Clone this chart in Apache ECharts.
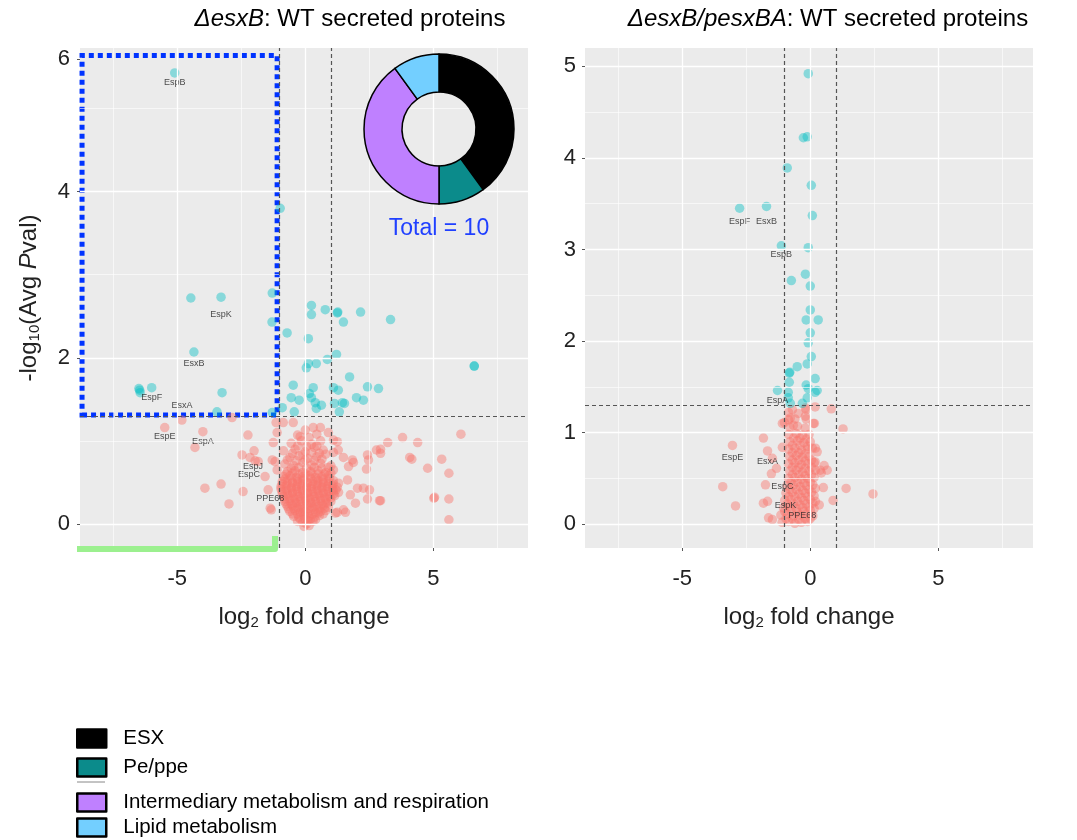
<!DOCTYPE html>
<html>
<head>
<meta charset="UTF-8">
<title>Volcano plots - WT secreted proteins</title>
<script src="https://cdn.jsdelivr.net/npm/echarts@6/dist/echarts.min.js"></script>
<style>body{margin:0;background:#fff;}</style>
</head>
<body>
<div id="container" style="width:1077px;height:840px;"></div>
<script>
var FONT = '"Liberation Sans", Arial, sans-serif';

// left panel (ΔesxB), points with Avg Pval < 0.05
var leftCyan = [
  [-5.1,5.43],[-0.98,3.80],[-4.47,2.72],[-3.29,2.73],[-1.29,2.78],[-1.3,2.43],[-4.35,2.07],
  [-6.47,1.61],[-6.45,1.58],[-6.5,1.63],[-6.0,1.64],[-3.25,1.58],[-3.45,1.35],[-1.29,1.34],
  [-0.9,1.40],[-0.43,1.35],[-0.71,2.30],[0.24,2.63],[0.24,2.52],[0.78,2.58],[0.12,2.23],
  [0.12,1.93],[0.04,1.88],[0.43,1.93],[0.86,1.98],[-0.47,1.67],[-0.55,1.52],[-0.24,1.49],
  [0.31,1.64],[0.16,1.57],[0.24,1.52],[0.39,1.46],[0.63,1.43],[0.43,1.39],[1.25,2.54],
  [1.27,2.55],[2.16,2.55],[1.49,2.43],[3.33,2.46],[1.22,2.04],[6.6,1.90],[6.6,1.90],
  [1.73,1.77],[1.1,1.64],[1.29,1.61],[2.43,1.65],[2.86,1.63],[2.0,1.52],[2.27,1.49],
  [1.14,1.45],[1.45,1.46],[1.53,1.45],[1.33,1.35]
];
// left panel, non significant points
var leftRed = [
  [-5.49,1.16],[-4.82,1.25],[-4.0,1.11],[-4.31,0.92],[-2.86,1.28],[-2.24,1.07],[-2.0,0.88],
  [-2.47,0.83],[-2.16,0.80],[-1.96,0.76],[-1.84,0.75],[-3.92,0.43],[-3.29,0.48],[-2.43,0.39],
  [-2.98,0.24],[-1.37,0.19],[-1.57,0.57],[-1.25,0.98],[-1.29,0.77],[-1.1,1.10],[-1.14,1.22],
  [-0.86,1.22],[-0.47,1.22],[0,1.13],[0.31,1.16],[0.59,1.16],[0.9,1.10],[-0.2,1.05],
  [1.25,0.99],[1.1,1.01],[3.22,0.98],[2.78,0.89],[2.43,0.83],[2.47,0.77],[1.84,0.77],
  [1.88,0.74],[1.69,0.69],[2.39,0.66],[1.49,0.80],[1.29,0.89],[-1.18,0.75],[-1.1,0.65],
  [-1.45,0.41],[-1.33,0.17],[1.65,0.53],[2.04,0.43],[2.27,0.43],[2.51,0.41],[1.76,0.35],
  [1.96,0.25],[2.43,0.30],[2.9,0.28],[1.18,0.13],[1.49,0.17],[1.57,0.14],[1.25,0.14],
  [2.94,0.90],[3.8,1.04],[4.39,0.98],[6.08,1.08],[4.16,0.78],[4.08,0.80],[5.33,0.78],
  [4.78,0.67],[5.61,0.61],[2.94,0.28],[5.02,0.31],[5.05,0.32],[5.61,0.30],[5.61,0.05],[2.94,0.85],
  [-0.05,-0.03],[0.15,-0.02],
  [-0.3,0.03],[-0.1,0.02],[0.1,0.04],[0.3,0.03],
  [-0.45,0.09],[-0.25,0.08],[-0.05,0.1],[0.15,0.09],[0.35,0.08],[0.55,0.1],
  [-0.6,0.15],[-0.4,0.16],[-0.2,0.14],[0,0.15],[0.2,0.16],[0.4,0.14],[0.6,0.15],[0.8,0.16],
  [-0.7,0.21],[-0.5,0.22],[-0.3,0.2],[-0.1,0.21],[0.1,0.22],[0.3,0.2],[0.5,0.21],[0.7,0.22],[0.9,0.2],
  [-0.8,0.27],[-0.6,0.28],[-0.4,0.26],[-0.2,0.27],[0,0.28],[0.2,0.26],[0.4,0.27],[0.6,0.28],[0.8,0.26],[1.0,0.27],
  [-0.85,0.33],[-0.65,0.34],[-0.45,0.32],[-0.25,0.33],[-0.05,0.34],[0.15,0.32],[0.35,0.33],[0.55,0.34],[0.75,0.32],[0.95,0.33],[1.15,0.34],
  [-0.9,0.39],[-0.7,0.4],[-0.5,0.38],[-0.3,0.39],[-0.1,0.4],[0.1,0.38],[0.3,0.39],[0.5,0.4],[0.7,0.38],[0.9,0.39],[1.1,0.4],[1.3,0.38],
  [-0.95,0.45],[-0.75,0.46],[-0.55,0.44],[-0.35,0.45],[-0.15,0.46],[0.05,0.44],[0.25,0.45],[0.45,0.46],[0.65,0.44],[0.85,0.45],[1.05,0.46],[1.25,0.44],
  [-0.9,0.51],[-0.7,0.52],[-0.5,0.5],[-0.3,0.51],[-0.1,0.52],[0.1,0.5],[0.3,0.51],[0.5,0.52],[0.7,0.5],[0.9,0.51],[1.1,0.52],
  [-0.85,0.57],[-0.6,0.58],[-0.35,0.56],[-0.1,0.57],[0.15,0.58],[0.4,0.56],[0.65,0.57],[0.9,0.58],
  [-0.7,0.63],[-0.4,0.64],[-0.1,0.62],[0.2,0.63],[0.5,0.64],[0.8,0.62],[1.1,0.65],
  [-0.8,0.72],[-0.45,0.7],[-0.1,0.74],[0.25,0.71],[0.6,0.73],[1.0,0.7],
  [-0.6,0.8],[-0.25,0.82],[0.1,0.79],[0.45,0.81],[0.8,0.84],
  [-0.85,0.88],[-0.4,0.9],[0.0,0.87],[0.35,0.92],[0.7,0.89],[1.1,0.86],
  [-0.55,0.97],[-0.15,1.0],[0.25,0.96],[0.6,1.0],
  [-0.3,1.07],[0.15,1.04],[0.45,1.08],
  [0.05,0.0],[-0.2,0.06],[0.0,0.06],[0.2,0.06],[0.4,0.05],
  [-0.5,0.12],[-0.3,0.12],[-0.1,0.13],[0.1,0.12],[0.3,0.12],[0.5,0.13],[0.7,0.12],
  [-0.65,0.18],[-0.45,0.19],[-0.25,0.18],[-0.05,0.18],[0.15,0.19],[0.35,0.18],[0.55,0.18],[0.75,0.19],
  [-0.75,0.24],[-0.55,0.24],[-0.35,0.25],[-0.15,0.24],[0.05,0.24],[0.25,0.25],[0.45,0.24],[0.65,0.24],[0.85,0.25],
  [-0.8,0.3],[-0.6,0.31],[-0.4,0.3],[-0.2,0.3],[0.0,0.31],[0.2,0.3],[0.4,0.3],[0.6,0.31],[0.8,0.3],[1.0,0.31],
  [-0.9,0.36],[-0.7,0.36],[-0.5,0.37],[-0.3,0.36],[-0.1,0.36],[0.1,0.37],[0.3,0.36],[0.5,0.36],[0.7,0.37],[0.9,0.36],[1.1,0.36],
  [-0.95,0.42],[-0.75,0.42],[-0.55,0.43],[-0.35,0.42],[-0.15,0.42],[0.05,0.43],[0.25,0.42],[0.45,0.42],[0.65,0.43],[0.85,0.42],[1.05,0.42],[1.2,0.41],
  [-0.9,0.48],[-0.7,0.48],[-0.5,0.49],[-0.3,0.48],[-0.1,0.48],[0.1,0.49],[0.3,0.48],[0.5,0.48],[0.7,0.49],[0.9,0.48],[1.1,0.48],[1.3,0.49],
  [-0.8,0.54],[-0.55,0.55],[-0.3,0.54],[-0.05,0.54],[0.2,0.55],[0.45,0.54],[0.7,0.54],[0.95,0.55],
  [-0.75,0.6],[-0.5,0.61],[-0.25,0.6],[0.0,0.6],[0.25,0.61],[0.5,0.6],[0.75,0.6],[1.0,0.61],
  [-0.55,0.67],[-0.25,0.68],[0.05,0.67],[0.35,0.68],[0.65,0.67],[0.9,0.68],
  [-0.7,0.77],[-0.35,0.76],[0.0,0.77],[0.35,0.76],[0.65,0.78],
  [-0.5,0.85],[-0.1,0.84],[0.25,0.86],[0.55,0.85],
  [-0.3,0.94],[0.05,0.93],[0.45,0.94]
];

// right panel (ΔesxB/pesxBA)
var rightCyan = [
  [-0.08,4.92],[-0.27,4.22],[-0.12,4.23],[-0.9,3.89],[0.04,3.70],[-2.76,3.45],[-1.71,3.47],
  [0.08,3.37],[-1.13,3.04],[-0.08,3.02],[-0.19,2.73],[-0.74,2.66],[0.0,2.60],[0.0,2.34],
  [-0.16,2.23],[0.31,2.23],[0,2.09],[-0.08,1.98],[0.04,1.83],[-0.51,1.72],[-0.12,1.75],
  [-0.82,1.65],[-0.8,1.66],[0.19,1.59],[-0.82,1.55],[-0.16,1.52],[-0.08,1.48],[0.27,1.46],
  [0.19,1.44],[-1.28,1.46],[-0.86,1.44],[-0.86,1.38],[-0.12,1.38],[-0.31,1.32],[-0.78,1.32]
];
var rightRed = [
  [0.82,1.26],[1.28,1.04],[-3.04,0.86],[-1.83,0.94],[-1.67,0.80],[-1.32,0.61],[-3.42,0.41],
  [-2.92,0.20],[-1.83,0.23],[-1.52,0.55],[-1.75,0.43],[-1.67,0.25],[-1.63,0.07],[-1.48,0.05],
  [1.40,0.39],[2.45,0.33],[0.89,0.26],[0.35,0.21],[0.66,0.59],[0.54,0.64],[0.43,0.56],
  [0.08,0.83],[0.16,1.10],[-0.16,1.15],[-0.47,1.21],[-0.19,1.27],[-1.09,0.84],[-1.09,1.10],
  [0.51,0.40],[0.19,1.28],[-0.16,1.25],[0.12,1.10],[-1.01,1.11],[-0.78,1.16],[-1.48,0.72],
  [0.39,0.59],[0.19,0.68],[0.27,0.79],[-0.19,1.18],[-0.66,1.08],
  [-1.1,0.02],[-0.85,0.03],[-0.6,0.01],[-0.35,0.02],[-0.1,0.03],
  [-1.15,0.1],[-0.9,0.11],[-0.65,0.09],[-0.4,0.1],[-0.15,0.11],[0.1,0.09],
  [-1.05,0.18],[-0.8,0.19],[-0.55,0.17],[-0.3,0.18],[-0.05,0.19],[0.15,0.17],
  [-1.0,0.26],[-0.75,0.27],[-0.5,0.25],[-0.25,0.26],[0.0,0.27],[0.2,0.25],
  [-0.95,0.34],[-0.7,0.35],[-0.45,0.33],[-0.2,0.34],[0.05,0.35],
  [-0.9,0.42],[-0.65,0.43],[-0.4,0.41],[-0.15,0.42],[0.1,0.43],
  [-0.85,0.5],[-0.6,0.51],[-0.35,0.49],[-0.1,0.5],[0.15,0.51],
  [-0.8,0.58],[-0.55,0.59],[-0.3,0.57],[-0.05,0.58],[0.2,0.59],
  [-0.85,0.66],[-0.6,0.67],[-0.35,0.65],[-0.1,0.66],[0.15,0.67],
  [-0.8,0.74],[-0.55,0.75],[-0.3,0.73],[-0.05,0.74],
  [-0.85,0.82],[-0.6,0.83],[-0.35,0.81],[-0.1,0.82],[0.2,0.83],
  [-0.8,0.9],[-0.5,0.91],[-0.25,0.89],[0.0,0.9],
  [-0.85,0.98],[-0.55,0.99],[-0.3,0.97],[-0.05,0.98],
  [-0.8,1.06],[-0.5,1.07],[-0.2,1.05],
  [-0.85,1.14],[-0.6,1.15],
  [-0.85,1.22],[-0.7,1.25],
  [-0.95,0.06],[-0.7,0.06],[-0.45,0.05],[-0.2,0.06],[0.0,0.06],
  [-1.0,0.14],[-0.75,0.14],[-0.5,0.13],[-0.25,0.14],[0.0,0.15],
  [-0.9,0.22],[-0.65,0.22],[-0.4,0.21],[-0.15,0.22],[0.1,0.23],
  [-0.85,0.3],[-0.6,0.3],[-0.35,0.29],[-0.1,0.3],[0.15,0.31],
  [-0.8,0.38],[-0.55,0.38],[-0.3,0.37],[-0.05,0.38],[0.2,0.39],
  [-0.75,0.46],[-0.5,0.46],[-0.25,0.45],[0.0,0.46],
  [-0.7,0.54],[-0.45,0.54],[-0.2,0.53],[0.05,0.54],
  [-0.7,0.62],[-0.45,0.62],[-0.2,0.61],[0.05,0.62],
  [-0.7,0.7],[-0.45,0.7],[-0.2,0.69],[0.05,0.7],
  [-0.7,0.78],[-0.45,0.78],[-0.2,0.77],
  [-0.7,0.86],[-0.4,0.86],[-0.1,0.85],
  [-0.65,0.94],[-0.4,0.94],[-0.15,0.93]
];

var leftLabelNames = ['EspB','EspK','EsxB','EspF','EsxA','EspE','EspA','EspJ','EspC','PPE68'];
var leftLabelPos = [[-5.1,5.31],[-3.29,2.52],[-4.35,1.93],[-6.0,1.52],[-4.82,1.43],[-5.49,1.05],[-4.0,0.99],[-2.04,0.69],[-2.2,0.59],[-1.37,0.31]];
var rightLabelNames = ['EspF','EsxB','EspB','EspA','EspE','EsxA','EspC','EspK','PPE68'];
var rightLabelPos = [[-2.76,3.31],[-1.71,3.30],[-1.13,2.94],[-1.28,1.35],[-3.04,0.73],[-1.67,0.68],[-1.09,0.41],[-0.97,0.20],[-0.31,0.09]];

// donut: functional categories of the 10 proteins
var categories = ['ESX','Pe/ppe','Intermediary metabolism and respiration','Lipid metabolism'];
var categoryCounts = [4,1,4,1];
var categoryColors = ['#000000','#0b8b8b','#bf80ff','#73cfff'];
var legendTops = [728, 757, 792, 817];

// ticks and grid
var xTicks = [-5,0,5];
var xMajor = [-5,0,5];
var xMinor = [-7.5,-2.5,2.5,7.5];
var leftYTicks = [0,2,4,5.6];
var leftYTickLabels = ['0','2','4','6'];
var leftYMajor = [0,2,4];
var leftYMinor = [1,3,5];
var rightYTicks = [0,1,2,3,4,5];
var rightYMajor = [0,1,2,3,4,5];
var rightYMinor = [0.5,1.5,2.5,3.5,4.5];
var fcCut = [-1,1];
var pCut = 1.3;

function gridLineData(xMaj, xMin, yMaj, yMin) {
  var d = [];
  xMin.forEach(function (v) { d.push({xAxis: v, lineStyle: {width: 0.6}}); });
  yMin.forEach(function (v) { d.push({yAxis: v, lineStyle: {width: 0.6}}); });
  xMaj.forEach(function (v) { d.push({xAxis: v, lineStyle: {width: 1.3}}); });
  yMaj.forEach(function (v) { d.push({yAxis: v, lineStyle: {width: 1.3}}); });
  return d;
}
function cutLineData() {
  var d = fcCut.map(function (v) { return {xAxis: v}; });
  d.push({yAxis: pCut});
  return d;
}
function labelData(names, pos) {
  return names.map(function (n, i) { return {name: n, value: pos[i]}; });
}

var subRich = {
  a: {fontSize: 24, color: '#222', fontFamily: FONT},
  s: {fontSize: 15, color: '#222', fontFamily: FONT, padding: [11, 0, 0, 0]},
  i: {fontSize: 24, color: '#222', fontFamily: FONT, fontStyle: 'italic'}
};
var titleRich = {
  i: {fontSize: 24, color: '#000', fontFamily: FONT, fontStyle: 'italic', fontWeight: 'normal'},
  n: {fontSize: 24, color: '#000', fontFamily: FONT, fontWeight: 'normal'}
};

function xAxisOpt(idx) {
  return {
    gridIndex: idx, type: 'value', min: -8.8, max: 8.7,
    axisLine: {show: false, onZero: false},
    axisTick: {show: true, customValues: xTicks, length: 3, lineStyle: {color: '#555'}},
    axisLabel: {customValues: xTicks, fontSize: 22, color: '#222', margin: 20, fontFamily: FONT},
    splitLine: {show: false},
    name: '{a|log}{s|2}{a| fold change}',
    nameLocation: 'middle', nameGap: 56,
    nameTextStyle: {rich: subRich}
  };
}

// one legend per entry so the uneven spacing of the original can be kept
var legends = categories.map(function (c, i) {
  return {
    data: [c], orient: 'vertical', left: 76, top: legendTops[i], padding: 0,
    itemWidth: 29, itemHeight: 18, icon: 'rect', selectedMode: false,
    itemStyle: {borderColor: '#000', borderWidth: 2.5},
    textStyle: {fontSize: 20.5, color: '#000', fontFamily: FONT, padding: [0, 0, 0, 12]}
  };
});

var chart_container = echarts.init(document.getElementById('container'), null, {renderer: 'canvas'});

var dotSize = 9.5;
var option_container = {
  animation: false,
  textStyle: {fontFamily: FONT},
  title: [
    {text: '{i|ΔesxB}{n|: WT secreted proteins}', left: 345, top: 2, textAlign: 'center', textStyle: {rich: titleRich}},
    {text: '{i|ΔesxB/pesxBA}{n|: WT secreted proteins}', left: 823, top: 2, textAlign: 'center', textStyle: {rich: titleRich}},
    {text: 'Total = 10', left: 434, top: 212, textAlign: 'center',
      textStyle: {color: '#2040ff', fontSize: 23, fontWeight: 'normal', fontFamily: FONT}}
  ],
  grid: [
    {left: 80, top: 48, width: 448, height: 500, show: true, backgroundColor: '#ebebeb', borderWidth: 0},
    {left: 585, top: 48, width: 448, height: 500, show: true, backgroundColor: '#ebebeb', borderWidth: 0}
  ],
  xAxis: [xAxisOpt(0), xAxisOpt(1)],
  yAxis: [
    {
      gridIndex: 0, type: 'value', min: -0.29, max: 5.73,
      axisLine: {show: false, onZero: false},
      axisTick: {show: true, customValues: leftYTicks, length: 3, lineStyle: {color: '#555'}},
      axisLabel: {
        customValues: leftYTicks, fontSize: 22, color: '#222', margin: 10, fontFamily: FONT,
        formatter: function (v) {
          var best = 0;
          leftYTicks.forEach(function (t, i) { if (Math.abs(t - v) < Math.abs(leftYTicks[best] - v)) best = i; });
          return leftYTickLabels[best];
        }
      },
      splitLine: {show: false},
      name: '{a|-log}{s|10}{a|(Avg }{i|P}{a|val)}',
      nameLocation: 'middle', nameGap: 38, nameRotate: 90,
      nameTextStyle: {rich: subRich}
    },
    {
      gridIndex: 1, type: 'value', min: -0.26, max: 5.2,
      axisLine: {show: false, onZero: false},
      axisTick: {show: true, customValues: rightYTicks, length: 3, lineStyle: {color: '#555'}},
      axisLabel: {customValues: rightYTicks, fontSize: 22, color: '#222', margin: 9, fontFamily: FONT},
      splitLine: {show: false}
    }
  ],
  legend: legends,
  graphic: [
    {type: 'line', shape: {x1: 77, y1: 782, x2: 105, y2: 782}, style: {stroke: '#888', lineWidth: 1}},
    {type: 'polyline', shape: {points: [[77, 549], [275, 549], [275, 536]]}, z: 20,
      style: {stroke: '#9cf08f', lineWidth: 6, fill: null, lineJoin: 'round'}}
  ],
  series: [
    // panel grid lines
    {type: 'scatter', xAxisIndex: 0, yAxisIndex: 0, data: [], z: 1, silent: true,
      markLine: {silent: true, symbol: 'none', label: {show: false}, animation: false,
        lineStyle: {color: '#ffffff', type: 'solid'},
        data: gridLineData(xMajor, xMinor, leftYMajor, leftYMinor)}},
    {type: 'scatter', xAxisIndex: 1, yAxisIndex: 1, data: [], z: 1, silent: true,
      markLine: {silent: true, symbol: 'none', label: {show: false}, animation: false,
        lineStyle: {color: '#ffffff', type: 'solid'},
        data: gridLineData(xMajor, xMinor, rightYMajor, rightYMinor)}},
    // points
    {type: 'scatter', xAxisIndex: 0, yAxisIndex: 0, data: leftRed, symbolSize: dotSize, z: 2, silent: true,
      itemStyle: {color: '#F8766D', opacity: 0.45, borderWidth: 0}},
    {type: 'scatter', xAxisIndex: 0, yAxisIndex: 0, data: leftCyan, symbolSize: dotSize, z: 2, silent: true,
      itemStyle: {color: '#00BFC4', opacity: 0.42, borderWidth: 0}},
    {type: 'scatter', xAxisIndex: 1, yAxisIndex: 1, data: rightRed, symbolSize: dotSize, z: 2, silent: true,
      itemStyle: {color: '#F8766D', opacity: 0.45, borderWidth: 0}},
    {type: 'scatter', xAxisIndex: 1, yAxisIndex: 1, data: rightCyan, symbolSize: dotSize, z: 2, silent: true,
      itemStyle: {color: '#00BFC4', opacity: 0.42, borderWidth: 0}},
    // protein labels
    {type: 'scatter', xAxisIndex: 0, yAxisIndex: 0, data: labelData(leftLabelNames, leftLabelPos),
      symbolSize: 1, z: 3, silent: true, itemStyle: {color: 'rgba(0,0,0,0)'},
      label: {show: true, position: 'inside', formatter: '{b}', fontSize: 9, color: '#222', fontFamily: FONT}},
    {type: 'scatter', xAxisIndex: 1, yAxisIndex: 1, data: labelData(rightLabelNames, rightLabelPos),
      symbolSize: 1, z: 3, silent: true, itemStyle: {color: 'rgba(0,0,0,0)'},
      label: {show: true, position: 'inside', formatter: '{b}', fontSize: 9, color: '#222', fontFamily: FONT}},
    // cut-off lines + highlighted box
    {type: 'scatter', xAxisIndex: 0, yAxisIndex: 0, data: [], z: 4, silent: true,
      markLine: {silent: true, symbol: 'none', label: {show: false}, animation: false,
        lineStyle: {color: '#555', type: [4, 3], width: 1.2}, data: cutLineData()},
      markArea: {silent: true, animation: false, label: {show: false},
        itemStyle: {color: 'rgba(0,0,0,0)', borderColor: '#0033ff', borderWidth: 5, borderType: [5, 4]},
        data: [[{xAxis: -8.72, yAxis: 1.31}, {xAxis: -1.1, yAxis: 5.64}]]}},
    {type: 'scatter', xAxisIndex: 1, yAxisIndex: 1, data: [], z: 4, silent: true,
      markLine: {silent: true, symbol: 'none', label: {show: false}, animation: false,
        lineStyle: {color: '#555', type: [4, 3], width: 1.2}, data: cutLineData()}},
    // donut
    {type: 'pie', center: [439, 129], radius: [37, 75], startAngle: 90, z: 10, silent: true,
      label: {show: false}, labelLine: {show: false},
      itemStyle: {borderColor: '#000', borderWidth: 1.5},
      data: categories.map(function (c, i) {
        return {name: c, value: categoryCounts[i], itemStyle: {color: categoryColors[i]}};
      })}
  ]
};
chart_container.setOption(option_container);
</script>
</body>
</html>
